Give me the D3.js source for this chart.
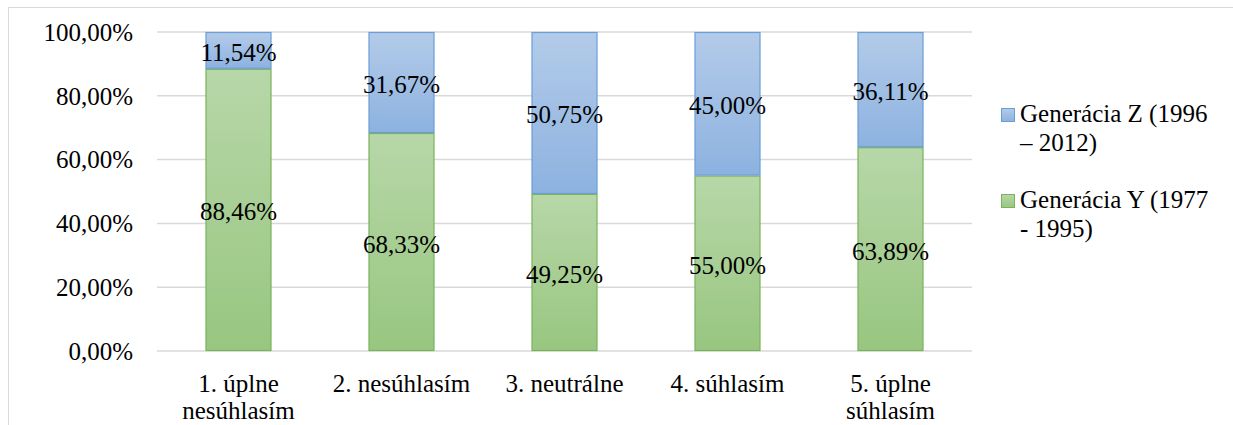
<!DOCTYPE html>
<html>
<head>
<meta charset="utf-8">
<script src="https://cdn.jsdelivr.net/npm/d3@7"></script>
<style>
  html, body { margin: 0; padding: 0; background: #fff; }
</style>
</head>
<body>
<svg id="chart" width="1233" height="425"></svg>
<script>
// Answer categories (two-line labels)
const categories = [
  ["1. úplne", "nesúhlasím"],
  ["2. nesúhlasím"],
  ["3. neutrálne"],
  ["4. súhlasím"],
  ["5. úplne", "súhlasím"]
];
// Share of respondents per generation (percent)
const genY = [88.46, 68.33, 49.25, 55.00, 63.89];
const genZ = [11.54, 31.67, 50.75, 45.00, 36.11];
const seriesNames = [["Generácia Z (1996", "– 2012)"], ["Generácia Y (1977", "- 1995)"]];
const yTicks = [0, 20, 40, 60, 80, 100];

const FONT = '"Liberation Serif"';
const FS = 25;
const svg = d3.select("#chart");
const fmt = v => v.toFixed(2).replace(".", ",") + "%";

// chart frame
svg.append("rect")
  .attr("x", 8.5).attr("y", 7.5).attr("width", 1240).attr("height", 430)
  .attr("fill", "none").attr("stroke", "#d9d9d9").attr("stroke-width", 1);

const defs = svg.append("defs");
function grad(id, top, bottom) {
  const g = defs.append("linearGradient").attr("id", id)
    .attr("x1", 0).attr("y1", 0).attr("x2", 0).attr("y2", 1);
  g.append("stop").attr("offset", "0%").attr("stop-color", top);
  g.append("stop").attr("offset", "100%").attr("stop-color", bottom);
}
grad("gZ", "#b3cbe9", "#8db2e0");
grad("gY", "#b7d7a8", "#98c680");

const x = d3.scaleBand()
  .domain(d3.range(categories.length))
  .range([157, 972])
  .paddingInner(0.595)
  .paddingOuter(0.2975);
const y = d3.scaleLinear().domain([0, 100]).range([351, 32]);

// gridlines
svg.append("g").selectAll("line").data(yTicks).join("line")
  .attr("x1", 157).attr("x2", 972)
  .attr("y1", d => y(d)).attr("y2", d => y(d))
  .attr("stroke", "#d9d9d9").attr("stroke-width", 1.5);

// y axis labels
const yAxis = d3.axisLeft(y).tickValues(yTicks).tickFormat(fmt).tickSize(0).tickPadding(0);
const ya = svg.append("g").attr("transform", "translate(133,0)").call(yAxis);
ya.attr("font-family", null).attr("font-size", null);
ya.select(".domain").remove();
ya.selectAll("text")
  .style("font-family", FONT).style("font-size", FS + "px")
  .attr("fill", "#000").attr("dy", "0.33em");

// stacked bars
const rows = categories.map((c, i) => ({ i, Y: genY[i], Z: genZ[i] }));
const stack = d3.stack().keys(["Y", "Z"])(rows);
const fills = { Y: "url(#gY)", Z: "url(#gZ)" };
const strokes = { Y: "#78b35a", Z: "#6a9ed8" };

stack.forEach(layer => {
  const g = svg.append("g");
  g.selectAll("rect").data(layer).join("rect")
    .attr("x", d => x(d.data.i) + 0.5)
    .attr("width", x.bandwidth() - 1)
    .attr("y", d => y(d[1]) + 0.5)
    .attr("height", d => y(d[0]) - y(d[1]) - 1)
    .attr("fill", fills[layer.key])
    .attr("stroke", strokes[layer.key]).attr("stroke-width", 1.2);
});

// value labels, centred in each segment
stack.forEach(layer => {
  svg.append("g").selectAll("text").data(layer).join("text")
    .attr("x", d => x(d.data.i) + x.bandwidth() / 2)
    .attr("y", d => (y(d[0]) + y(d[1])) / 2)
    .attr("dy", "0.42em")
    .attr("text-anchor", "middle")
    .style("font-family", FONT).style("font-size", FS + "px")
    .attr("fill", "#000")
    .text(d => fmt(d.data[layer.key]));
});

// category labels
const xa = svg.append("g");
categories.forEach((lines, i) => {
  const cx = x(i) + x.bandwidth() / 2;
  const t = xa.append("text")
    .attr("x", cx)
    .attr("y", 392)
    .attr("text-anchor", "middle")
    .style("font-family", FONT).style("font-size", FS + "px")
    .attr("fill", "#000");
  lines.forEach((ln, k) => {
    t.append("tspan").attr("x", cx)
      .attr("dy", k === 0 ? 0 : 27).text(ln);
  });
});

// legend
const legend = [
  { name: seriesNames[0], fill: "url(#gZ)", stroke: strokes.Z, top: 108 },
  { name: seriesNames[1], fill: "url(#gY)", stroke: strokes.Y, top: 194 }
];
legend.forEach(l => {
  svg.append("rect")
    .attr("x", 1001.5).attr("y", l.top + 0.5).attr("width", 13).attr("height", 13)
    .attr("fill", l.fill).attr("stroke", l.stroke).attr("stroke-width", 1);
  const t = svg.append("text").attr("x", 1020).attr("y", l.top + 14)
    .style("font-family", FONT).style("font-size", FS + "px")
    .attr("fill", "#000");
  l.name.forEach((ln, k) => {
    t.append("tspan").attr("x", 1020).attr("dy", k === 0 ? 0 : 29).text(ln);
  });
});
</script>
</body>
</html>
